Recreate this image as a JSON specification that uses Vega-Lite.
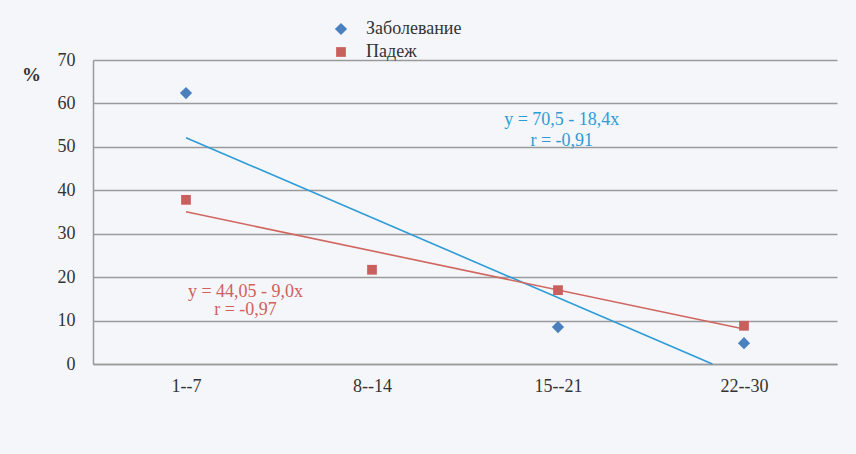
{
  "$schema": "https://vega.github.io/schema/vega-lite/v6.json",
  "autosize": {"type": "none"},
  "padding": {"left": 93, "top": 60, "right": 19, "bottom": 90},
  "width": 744,
  "height": 304,
  "background": "#f5f6fa",
  "config": {
    "view": {"stroke": null},
    "font": "Liberation Serif",
    "axis": {"labelFont": "Liberation Serif", "titleFont": "Liberation Serif"},
    "legend": {"labelFont": "Liberation Serif"},
    "text": {"font": "Liberation Serif"}
  },
  "datasets": {
    "points": [
      {"period": "1--7", "x": 1, "series": "Заболевание", "value": 62.4},
      {"period": "15--21", "x": 3, "series": "Заболевание", "value": 8.5},
      {"period": "22--30", "x": 4, "series": "Заболевание", "value": 4.8},
      {"period": "1--7", "x": 1, "series": "Падеж", "value": 37.8},
      {"period": "8--14", "x": 2, "series": "Падеж", "value": 21.7},
      {"period": "15--21", "x": 3, "series": "Падеж", "value": 17.0},
      {"period": "22--30", "x": 4, "series": "Падеж", "value": 8.8}
    ],
    "trend": [
      {"series": "Заболевание", "x": 1, "value": 52.1},
      {"series": "Заболевание", "x": 3.83, "value": 0},
      {"series": "Падеж", "x": 1, "value": 35.05},
      {"series": "Падеж", "x": 4, "value": 8.05}
    ],
    "notes": [
      {"series": "Заболевание", "x": 3.02, "value": 56.2, "label": "y = 70,5 - 18,4x"},
      {"series": "Заболевание", "x": 3.02, "value": 51.4, "label": "r = -0,91"},
      {"series": "Падеж", "x": 1.32, "value": 16.6, "label": "y = 44,05 - 9,0x"},
      {"series": "Падеж", "x": 1.32, "value": 12.4, "label": "r = -0,97"}
    ]
  },
  "encoding": {
    "x": {
      "field": "x",
      "type": "quantitative",
      "scale": {"domain": [0.5, 4.5], "nice": false, "zero": false},
      "axis": {
        "title": null,
        "values": [1, 2, 3, 4],
        "labelExpr": "['1--7','8--14','15--21','22--30'][datum.value - 1]",
        "grid": false,
        "ticks": false,
        "domain": true,
        "domainColor": "#9a9a9a",
        "domainWidth": 1.5,
        "labelFont": "Liberation Serif",
        "labelFontSize": 18,
        "labelColor": "#333333",
        "labelPadding": 13
      }
    },
    "y": {
      "field": "value",
      "type": "quantitative",
      "scale": {"domain": [0, 70], "nice": false},
      "axis": {
        "title": "%",
        "titleAngle": 0,
        "titleX": -62,
        "titleY": 14,
        "titleAlign": "center",
        "titleBaseline": "middle",
        "titleFont": "Liberation Serif",
        "titleFontSize": 19,
        "titleFontWeight": "bold",
        "titleColor": "#333333",
        "values": [0, 10, 20, 30, 40, 50, 60, 70],
        "grid": true,
        "gridColor": "#9a9a9a",
        "gridWidth": 1.5,
        "ticks": false,
        "domain": true,
        "domainColor": "#9a9a9a",
        "domainWidth": 1.5,
        "labelFont": "Liberation Serif",
        "labelFontSize": 18,
        "labelColor": "#333333",
        "labelPadding": 18
      }
    }
  },
  "layer": [
    {
      "data": {"name": "trend"},
      "transform": [{"filter": "datum.series === 'Заболевание'"}],
      "mark": {"type": "line", "color": "#2d9bd8", "strokeWidth": 1.6}
    },
    {
      "data": {"name": "trend"},
      "transform": [{"filter": "datum.series === 'Падеж'"}],
      "mark": {"type": "line", "color": "#d0665f", "strokeWidth": 1.6}
    },
    {
      "data": {"name": "points"},
      "mark": {"type": "point", "filled": true, "opacity": 1},
      "encoding": {
        "color": {
          "field": "series",
          "type": "nominal",
          "scale": {"domain": ["Заболевание", "Падеж"], "range": ["#4a80bd", "#c8605d"]},
          "legend": {
            "title": null,
            "orient": "none",
            "legendX": 239,
            "legendY": -40,
            "padding": 0,
            "labelFont": "Liberation Serif",
            "labelFontSize": 18,
            "labelColor": "#333333",
            "labelOffset": 16,
            "rowPadding": 5,
            "symbolSize": 80
          }
        },
        "shape": {
          "field": "series",
          "type": "nominal",
          "scale": {"domain": ["Заболевание", "Падеж"], "range": ["diamond", "square"]}
        },
        "size": {
          "field": "series",
          "type": "nominal",
          "scale": {"domain": ["Заболевание", "Падеж"], "range": [150, 95]},
          "legend": null
        }
      }
    },
    {
      "data": {"name": "notes"},
      "transform": [{"filter": "datum.series === 'Заболевание'"}],
      "mark": {"type": "text", "color": "#2d9bd8", "fontSize": 18, "font": "Liberation Serif", "align": "center", "baseline": "middle"},
      "encoding": {"text": {"field": "label"}}
    },
    {
      "data": {"name": "notes"},
      "transform": [{"filter": "datum.series === 'Падеж'"}],
      "mark": {"type": "text", "color": "#d0605c", "fontSize": 18, "font": "Liberation Serif", "align": "center", "baseline": "middle"},
      "encoding": {"text": {"field": "label"}}
    }
  ]
}
